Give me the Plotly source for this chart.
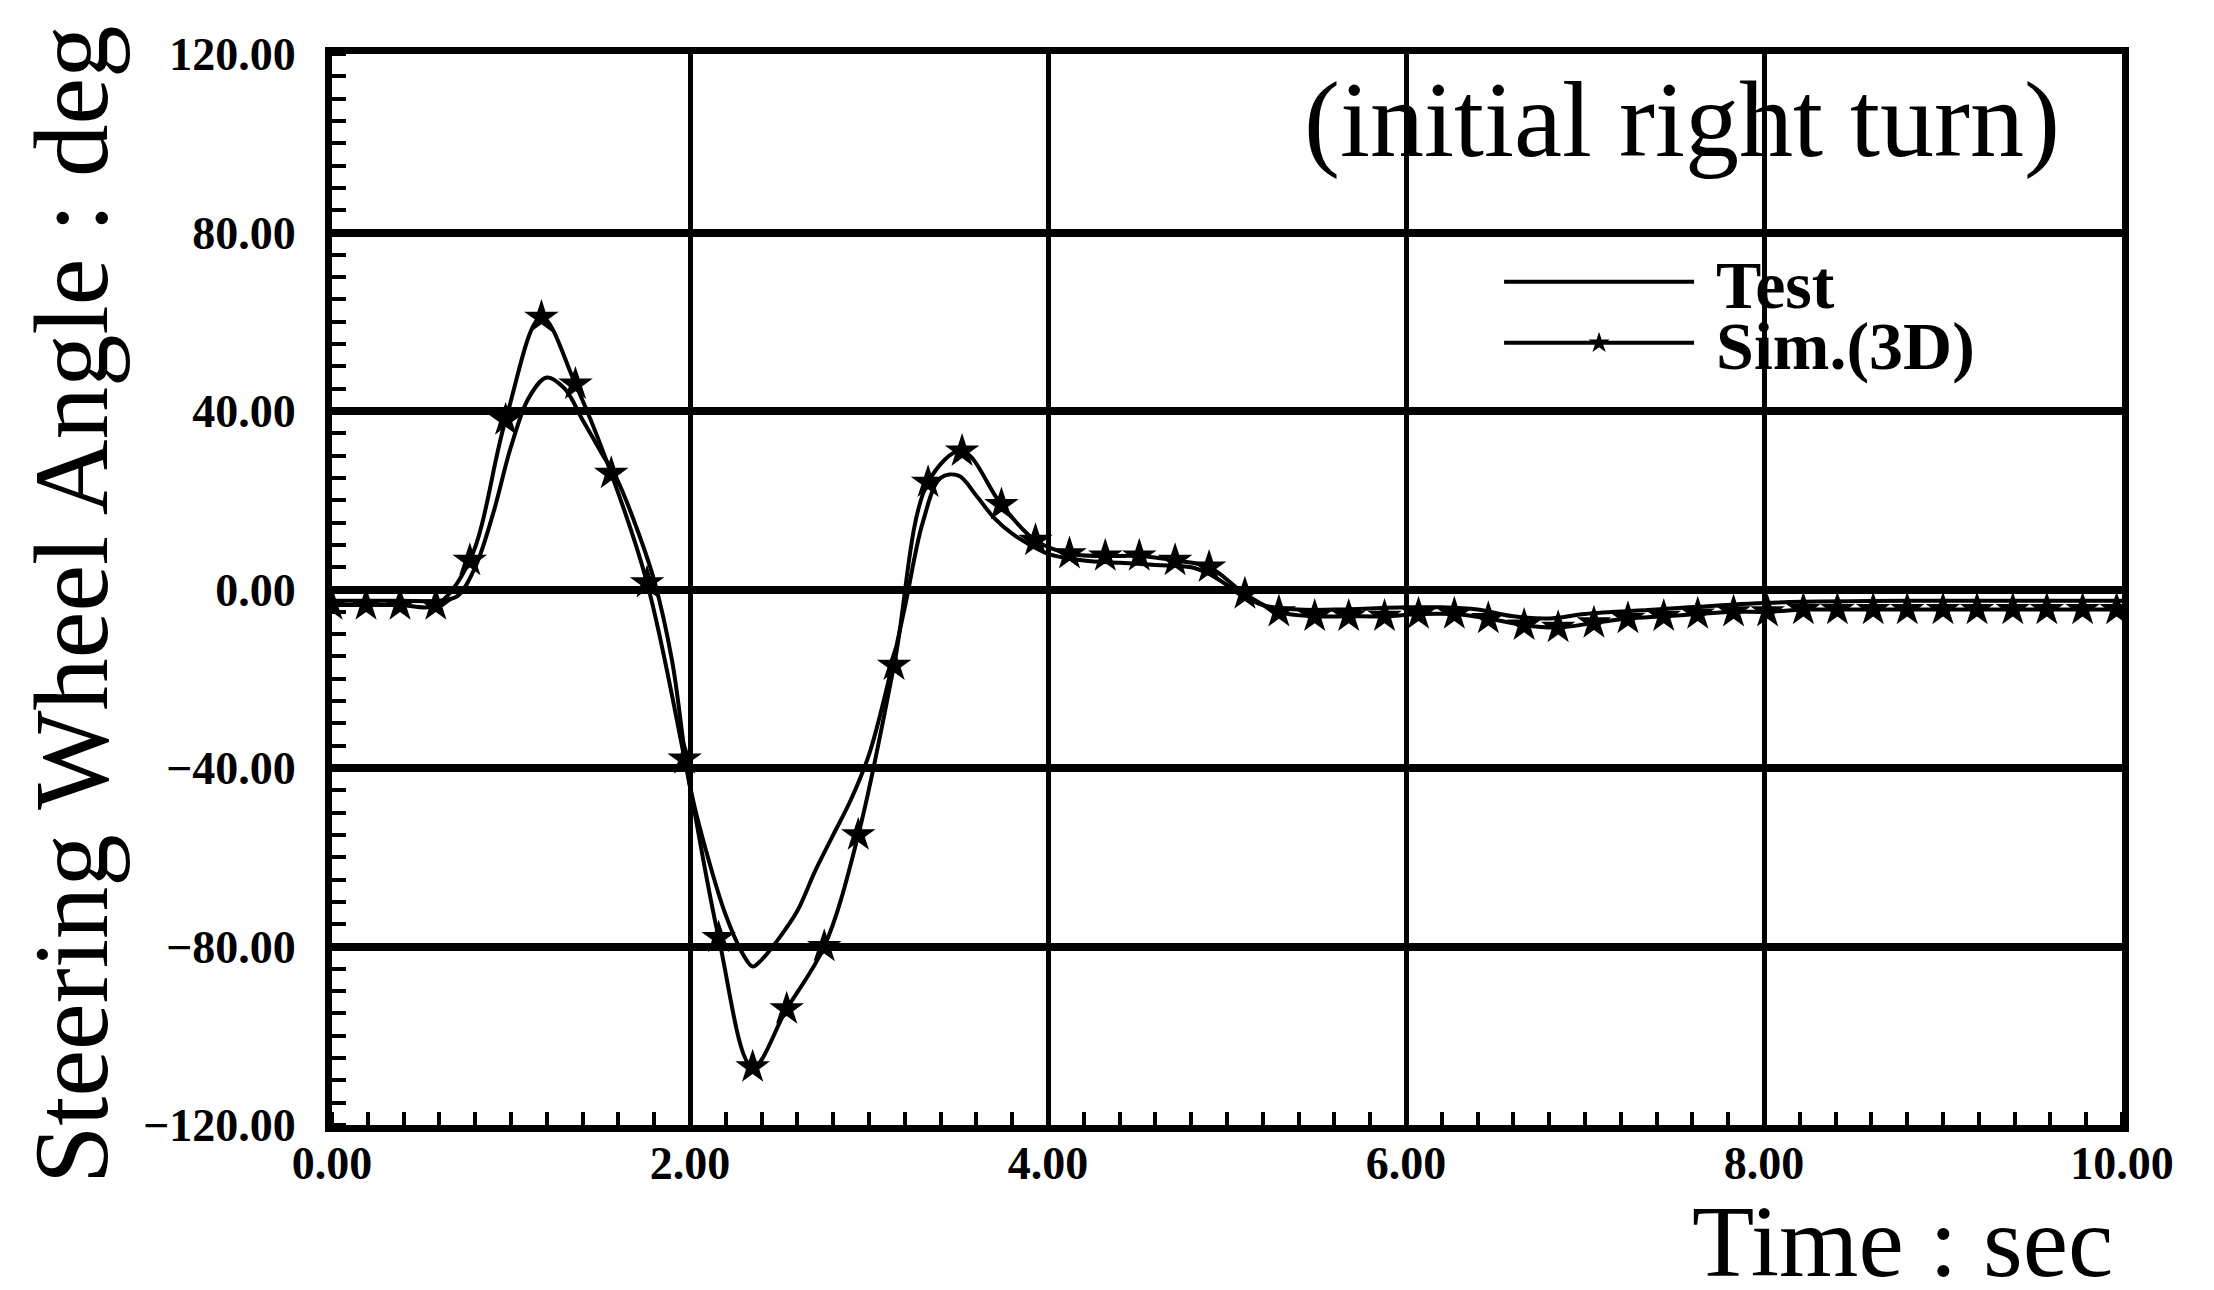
import plotly.graph_objects as go

# ---- data ----
test_t = [0.0, 0.2, 0.4, 0.6, 0.7, 0.8, 0.9, 1.0, 1.1, 1.2, 1.3, 1.4, 1.5, 1.6, 1.7, 1.8, 1.9,
          2.0, 2.1, 2.2, 2.3, 2.35, 2.4, 2.5, 2.6, 2.7, 2.8, 2.9, 3.0, 3.1, 3.2, 3.3, 3.4, 3.5,
          3.6, 3.7, 3.8, 3.9, 4.0, 4.2, 4.4, 4.6, 4.8, 4.9, 5.0, 5.1, 5.2, 5.4, 5.6, 6.0, 6.2,
          6.4, 6.6, 6.8, 7.0, 7.4, 8.0, 9.0, 10.0]
test_y = [-2.5, -2.5, -2.5, -2.5, -1.5, 5, 17, 32, 43, 47.5, 45, 38, 31, 24, 14, 2, -16,
          -44, -60, -73, -82, -84.5, -83, -78, -72, -63, -55, -47, -37, -22, -4, 15, 25, 25.5,
          21, 16, 12.5, 10, 8, 6.5, 6, 5.5, 5, 3.5, 1, -1.5, -3.5, -4.5, -4.5, -4, -4,
          -4.5, -6, -6.5, -5.5, -4.5, -3, -2.5, -2.5]

sim_t = [0.0, 0.19, 0.38, 0.58, 0.77, 0.97, 1.17, 1.36, 1.56, 1.76, 1.97, 2.16, 2.35, 2.54,
         2.75, 2.94, 3.14, 3.33, 3.52, 3.74, 3.93, 4.12, 4.32, 4.51, 4.71, 4.90, 5.10, 5.29,
         5.49, 5.68, 5.88, 6.07, 6.27, 6.46, 6.66, 6.85, 7.05, 7.24, 7.44, 7.63, 7.83, 8.02,
         8.22, 8.41, 8.61, 8.80, 9.00, 9.19, 9.39, 9.58, 9.78, 9.97]
sim_y = [-3.5, -3.5, -3.5, -3.5, 6.5, 38, 61, 46, 26, 1.5, -38, -78, -107, -94,
         -80, -55, -17, 24, 31, 19, 11, 8, 7.5, 7.5, 6.5, 5, -1, -5,
         -6, -6, -6, -5.5, -5.5, -6.5, -8, -8.5, -7.5, -6.5, -6, -5.5, -5, -5,
         -4.5, -4.5, -4.5, -4.5, -4.5, -4.5, -4.5, -4.5, -4.5, -4.5]

x_ticks = [0, 2, 4, 6, 8, 10]
y_ticks = [-120, -80, -40, 0, 40, 80, 120]

SERIF = "Liberation Serif, Times New Roman, serif"

fig = go.Figure()
fig.add_trace(go.Scatter(
    x=test_t, y=test_y, mode="lines", name="\u00a0Test",
    line=dict(color="black", width=4, shape="spline"),
    legend="legend",
))
fig.add_trace(go.Scatter(
    x=sim_t, y=sim_y, mode="lines+markers", name="\u00a0Sim.(3D)",
    line=dict(color="black", width=4, shape="spline"),
    marker=dict(symbol="star", size=26, color="black"),
    legend="legend2",
))

axis_common = dict(
    showline=True, linecolor="black", linewidth=7, mirror=True,
    showgrid=True, gridcolor="black", zeroline=False,
    ticks="", tickformat=".2f",
    tickfont=dict(family=SERIF, size=46, color="black", weight="bold"),
)

fig.update_xaxes(
    **axis_common, range=[0, 10], tickvals=x_ticks, gridwidth=5,
    ticklabelstandoff=-8,
    minor=dict(dtick=0.2, tick0=0, ticks="inside", ticklen=13, tickwidth=4,
               tickcolor="black", showgrid=False),
)
fig.update_yaxes(
    **axis_common, range=[-120, 120], tickvals=y_ticks, gridwidth=8,
    ticklabelstandoff=20,
    minor=dict(dtick=5, tick0=0, ticks="inside", ticklen=14, tickwidth=4,
               tickcolor="black", showgrid=False),
)

legend_font = dict(family=SERIF, size=68, color="black", weight="bold")
fig.update_layout(
    width=2214, height=1290,
    margin=dict(l=332, r=92, t=54, b=165),
    paper_bgcolor="white", plot_bgcolor="white",
    showlegend=True,
    legend=dict(x=0.652, y=0.787, xanchor="left", yanchor="middle",
                bgcolor="rgba(0,0,0,0)", font=legend_font, itemwidth=190),
    legend2=dict(x=0.652, y=0.730, xanchor="left", yanchor="middle",
                 bgcolor="rgba(0,0,0,0)", font=legend_font, itemwidth=190),
    annotations=[
        dict(text="(initial right turn)", xref="paper", yref="paper",
             x=0.9665, y=0.938, xanchor="right", yanchor="middle", showarrow=False,
             font=dict(family=SERIF, size=108, color="black")),
        dict(text="Time : sec", xref="paper", yref="paper",
             x=0.996, y=-0.109, xanchor="right", yanchor="middle", showarrow=False,
             font=dict(family=SERIF, size=102, color="black")),
        dict(text="Steering Wheel Angle : deg", xref="paper", yref="paper",
             x=-0.1455, y=0.486, xanchor="center", yanchor="middle", showarrow=False,
             textangle=-90,
             font=dict(family=SERIF, size=105, color="black")),
    ],
)

fig.write_html("out.html")
